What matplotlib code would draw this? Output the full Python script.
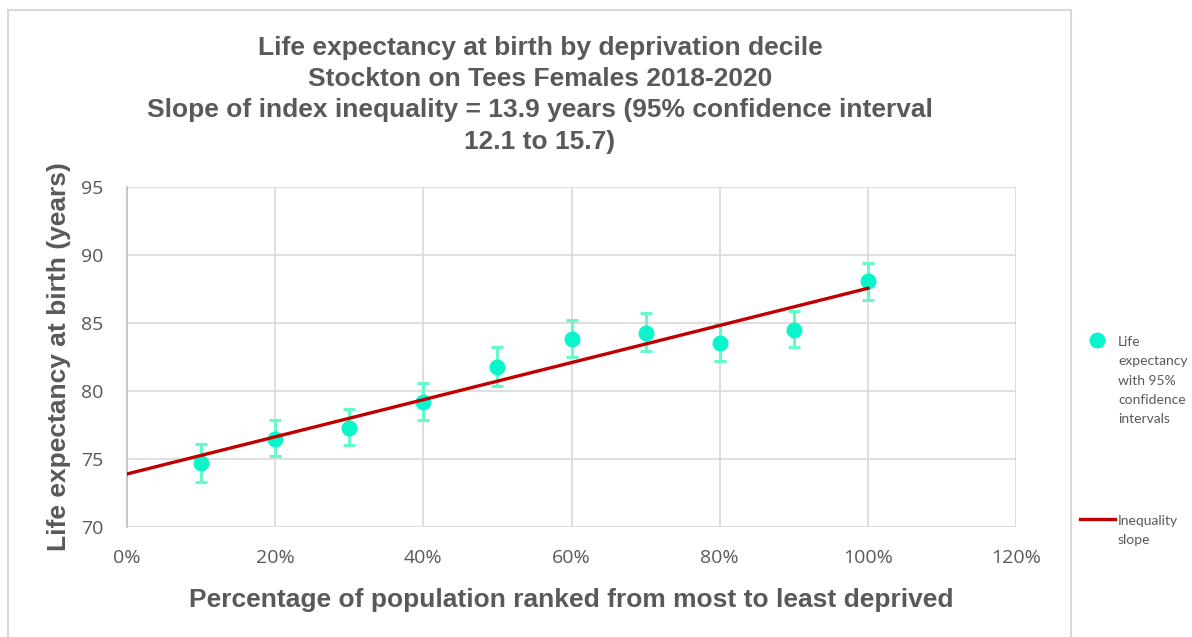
import matplotlib.pyplot as plt
from matplotlib.patches import Rectangle
from matplotlib.ticker import PercentFormatter

# data
population_pct = [0.1, 0.2, 0.3, 0.4, 0.5, 0.6, 0.7, 0.8, 0.9, 1.0]
life_exp = [74.7, 76.5, 77.3, 79.2, 81.8, 83.8, 84.3, 83.5, 84.5, 88.1]
ci_lower = [73.3, 75.2, 76.0, 77.9, 80.4, 82.5, 82.95, 82.2, 83.2, 86.7]
ci_upper = [76.1, 77.9, 78.7, 80.6, 83.2, 85.2, 85.75, 84.9, 85.9, 89.4]
slope_x = [0.0, 1.0]
slope_y = [73.9, 87.55]

title_lines = ["Life expectancy at birth by deprivation decile",
               "Stockton on Tees Females 2018-2020",
               "Slope of index inequality = 13.9 years (95% confidence interval",
               "12.1 to 15.7)"]
legend_points = "Life\nexpectancy\nwith 95%\nconfidence\nintervals"
legend_slope = "Inequality\nslope"

grey = '#595959'
grid_col = '#D9D9D9'
point_col = '#0AF5CC'
err_col = '#66FACB'
line_col = '#C00000'

W, H = 1192, 637
fig = plt.figure(figsize=(W / 100, H / 100), dpi=100)
ax = fig.add_axes([127 / W, 1 - 527 / H, (1016 - 127) / W, (527 - 187) / H])

# chart border
fig.add_artist(Rectangle((8 / W, -0.05), (1071 - 8) / W, 1.05 - 10 / H,
                         transform=fig.transFigure, fill=False,
                         edgecolor=grid_col, linewidth=1.5))

err_lo = [m - l for m, l in zip(life_exp, ci_lower)]
err_hi = [u - m for m, u in zip(life_exp, ci_upper)]
ax.errorbar(population_pct, life_exp, yerr=[err_lo, err_hi], fmt='none',
            ecolor=err_col, elinewidth=2.2, capsize=4.5, capthick=2.2, zorder=3)
pts, = ax.plot(population_pct, life_exp, 'o', color=point_col, markersize=10.5,
               zorder=4)
slope, = ax.plot(slope_x, slope_y, color=line_col, linewidth=2.4, zorder=5)

ax.set_xlim(0, 1.2)
ax.set_ylim(70, 95)
ax.set_xticks([0, 0.2, 0.4, 0.6, 0.8, 1.0, 1.2])
ax.set_yticks([70, 75, 80, 85, 90, 95])
ax.xaxis.set_major_formatter(PercentFormatter(1.0, decimals=0))
ax.grid(True, color=grid_col, linewidth=1.2)
ax.set_axisbelow(True)
for s in ['top', 'right', 'bottom']:
    ax.spines[s].set_visible(False)
ax.spines['left'].set_color('#BFBFBF')
ax.spines['left'].set_linewidth(1.2)
ax.tick_params(length=0, labelsize=14, labelcolor=grey)
ax.tick_params(axis='x', pad=16)
ax.tick_params(axis='y', pad=17)
for lab in ax.get_xticklabels() + ax.get_yticklabels():
    lab.set_fontfamily('Open Sans')

ax.set_xlabel('Percentage of population ranked from most to least deprived',
              fontsize=19, fontweight='bold', color=grey,
              family='Liberation Sans', labelpad=15)
ax.set_ylabel('Life expectancy at birth (years)', fontsize=19,
              fontweight='bold', color=grey, family='Liberation Sans',
              labelpad=7)

fig.text(540 / W, 1 - 36 / H, '\n'.join(title_lines), ha='center', va='top',
         fontsize=19, fontweight='bold', color=grey, family='Liberation Sans',
         linespacing=1.38)

# legend: handles from the library, labels aligned to the first line
leg1 = fig.legend([pts], [' '], loc='center left',
                  bbox_to_anchor=(1086 / W, 1 - 341 / H), frameon=False,
                  handlelength=1.6, handletextpad=0.2, borderpad=0,
                  borderaxespad=0, prop={'size': 10})
leg2 = fig.legend([slope], [' '], loc='center left',
                  bbox_to_anchor=(1080 / W, 1 - 520 / H), frameon=False,
                  handlelength=2.5, handletextpad=0.2, borderpad=0,
                  borderaxespad=0, prop={'size': 10})
fig.text(1118 / W, 1 - 336 / H, legend_points, ha='left', va='top',
         fontsize=10, color=grey, family='Lato', linespacing=1.73)
fig.text(1118 / W, 1 - 515 / H, legend_slope, ha='left', va='top',
         fontsize=10, color=grey, family='Lato', linespacing=1.73)

fig.savefig('out.png', dpi=100)
